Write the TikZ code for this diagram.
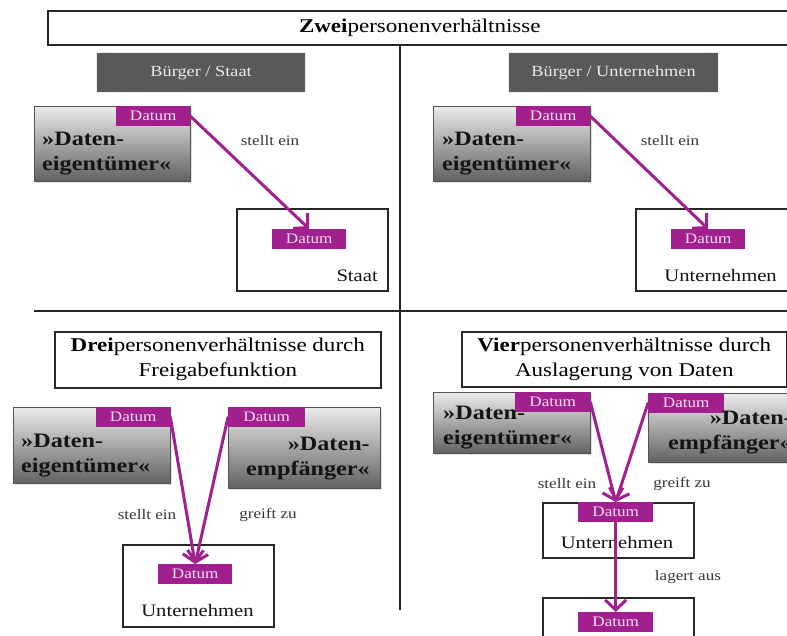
\documentclass[tikz,border=0pt]{standalone}
\usepackage{fontspec}
\setmainfont[FakeStretch=1.18]{Liberation Serif}
\usetikzlibrary{arrows.meta,shadows}
\definecolor{dpurple}{RGB}{162,32,142}
\definecolor{hdrgray}{RGB}{89,89,89}
\definecolor{lblgray}{RGB}{55,55,55}
\definecolor{tagtext}{RGB}{245,225,240}
\definecolor{edgegray}{RGB}{40,40,40}
\begin{document}
\begin{tikzpicture}[x=1pt,y=-1pt,
  boxframe/.style={draw=edgegray, line width=1.6pt, fill=white, inner sep=0pt, anchor=north west},
  hdr/.style={fill=hdrgray, draw=blue!7, line width=1.2pt, text=black!8, font=\fontsize{15.5}{18}\selectfont, inner sep=0pt, anchor=north west},
  actor/.style={draw=edgegray!80, line width=1.2pt, top color=black!8, bottom color=black!62, inner sep=0pt, anchor=north west, drop shadow={opacity=0.25, shadow xshift=1.5pt, shadow yshift=-1.5pt}},
  tag/.style={fill=dpurple, text=tagtext, font=\fontsize{14.5}{16}\selectfont, inner sep=0pt, minimum width=74pt, minimum height=20pt, anchor=north west},
  actortext/.style={font=\fontsize{20.5}{25}\selectfont\bfseries, inner sep=0pt, text=black!92},
  lbl/.style={font=\fontsize{14.5}{16}\selectfont, text=lblgray, inner sep=0pt},
  nametext/.style={font=\fontsize{17.5}{20}\selectfont, inner sep=0pt, text=black!92},
  titlefont/.style={font=\fontsize{19.5}{25}\selectfont, align=center},
  flow/.style={draw=dpurple, line width=3pt, -{Straight Barb[length=10pt,width=21pt]}, line cap=round, line join=round},
  divider/.style={draw=black!85, line width=1.8pt}
]
\useasboundingbox (0,0) rectangle (787,635);
\clip (0,0) rectangle (787,635);
\fill[white] (0,0) rectangle (787,635);

% title and dividers
\node[boxframe, titlefont, minimum width=744pt, minimum height=34pt] (title) at (47,10) {\textbf{Zwei}personenverhältnisse};
\coordinate (vtop) at (400,44);
\coordinate (vbot) at (400,610);
\coordinate (hleft) at (34,311);
\coordinate (hright) at (790,311);
\draw[divider] (vtop) -- (vbot);
\draw[divider] (hleft) -- (hright);

% top left: Buerger / Staat
\node[hdr, minimum width=209pt, minimum height=40pt] (h1) at (96,52) {Bürger / Staat};
\node[actor, minimum width=156pt, minimum height=75pt] (o1) at (34,106) {};
\node[actortext, align=left, anchor=west] (o1t) at (42,154) {»Daten-\\eigentümer«};
\node[tag] (t1) at (116,106) {Datum};
\node[boxframe, minimum width=151pt, minimum height=82pt] (s1) at (236,208) {};
\node[tag] (t2) at (272,229) {Datum};
\node[nametext, anchor=base east] (s1t) at (378,281) {Staat};
\node[lbl] (l1) at (270,141) {stellt ein};
\draw[flow] (t1.east) -- (t2.north);

% top right: Buerger / Unternehmen
\node[hdr, minimum width=210pt, minimum height=40pt] (h2) at (508,52) {Bürger / Unternehmen};
\node[actor, minimum width=157pt, minimum height=75pt] (o2) at (433,106) {};
\node[actortext, align=left, anchor=west] (o2t) at (442,154) {»Daten-\\eigentümer«};
\node[tag] (t3) at (516,106) {Datum};
\node[boxframe, minimum width=152pt, minimum height=82pt] (u1) at (635,208) {};
\node[tag] (t4) at (671,229) {Datum};
\node[nametext, anchor=base east] (u1t) at (777,281) {Unternehmen};
\node[lbl] (l2) at (670,141) {stellt ein};
\draw[flow] (t3.east) -- (t4.north);

% bottom left: Dreipersonenverhaeltnisse
\node[boxframe, titlefont, minimum width=326pt, minimum height=56pt] (title3) at (54,331) {\textbf{Drei}personenverhältnisse durch\\Freigabefunktion};
\node[actor, minimum width=157pt, minimum height=76pt] (o3) at (13,407) {};
\node[actortext, align=left, anchor=west] (o3t) at (21,456) {»Daten-\\eigentümer«};
\node[tag] (t5) at (96,407) {Datum};
\node[actor, minimum width=152pt, minimum height=81pt] (e3) at (228,407) {};
\node[tag, minimum width=77pt] (t6) at (228,407) {Datum};
\node[actortext, align=right, anchor=east] (e3t) at (370,459) {»Daten-\\empfänger«};
\node[boxframe, minimum width=151pt, minimum height=82pt] (u3) at (122,544) {};
\node[tag] (t7) at (158,564) {Datum};
\node[nametext] (u3t) at (197.5,611) {Unternehmen};
\node[lbl] (l3) at (147,515) {stellt ein};
\node[lbl] (l4) at (268,515) {greift zu};
\draw[flow] (t5.east) -- (t7.north);
\draw[flow] (t6.west) -- (t7.north);

% bottom right: Vierpersonenverhaeltnisse
\node[boxframe, titlefont, minimum width=325pt, minimum height=55pt] (title4) at (461,331) {\textbf{Vier}personenverhältnisse durch\\Auslagerung von Daten};
\node[actor, minimum width=157pt, minimum height=61pt] (o4) at (433,392) {};
\node[actortext, align=left, anchor=west] (o4t) at (443,428) {»Daten-\\eigentümer«};
\node[tag, minimum width=75pt] (t8) at (515,392) {Datum};
\node[actor, minimum width=155pt, minimum height=69pt] (e4) at (648,393) {};
\node[tag, minimum width=76pt] (t9) at (648,393) {Datum};
\node[actortext, align=right, anchor=east] (e4t) at (792,433) {»Daten-\\empfänger«};
\node[boxframe, minimum width=151pt, minimum height=55pt] (u4) at (542,502) {};
\node[tag, minimum width=75pt] (t10) at (578,502) {Datum};
\node[nametext] (u4t) at (617,543) {Unternehmen};
\node[boxframe, minimum width=151pt, minimum height=60pt] (c4) at (542,597) {};
\node[tag, minimum width=75pt] (t11) at (578,612) {Datum};
\node[lbl] (l5) at (567,484) {stellt ein};
\node[lbl] (l6) at (682,484) {greift zu};
\node[lbl] (l7) at (688,577) {lagert aus};
\draw[flow] (t8.east) -- (t10.north);
\draw[flow] (t9.west) -- (t10.north);
\draw[flow] (t10.south) -- (t11.north);
\end{tikzpicture}
\end{document}
